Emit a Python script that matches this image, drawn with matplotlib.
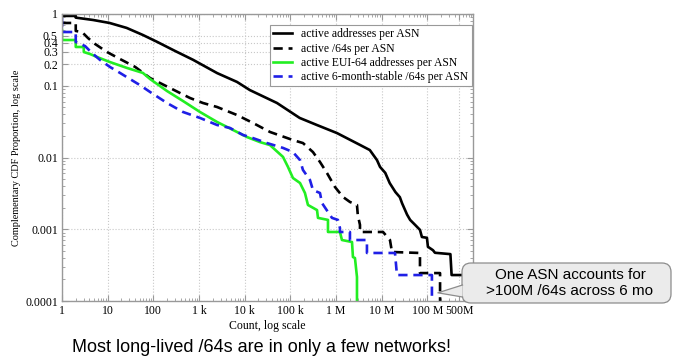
import matplotlib
matplotlib.use("Agg")
import matplotlib.pyplot as plt
from matplotlib.ticker import FixedLocator, FixedFormatter, LogLocator, NullFormatter
from matplotlib.patches import FancyBboxPatch, Polygon
from matplotlib.lines import Line2D

# complementary CDFs: count vs. proportion of ASNs with at least that count
addr_x = [1, 2, 2, 4.8, 11, 26, 59, 120, 300, 740, 2500, 6800, 13000, 51000,
          1.6e5, 3.8e5, 1.05e6, 3.4e6, 5.5e6, 7.9e6, 9.2e6, 1.2e7, 1.5e7, 2.0e7,
          2.5e7, 2.8e7, 3.6e7, 4.2e7, 5.4e7, 6.9e7, 7.6e7, 9.8e7, 1.03e8, 1.33e8,
          1.47e8, 3.2e8, 3.4e8, 6.5e8]
addr_y = [0.94, 0.94, 0.89, 0.825, 0.75, 0.64, 0.51, 0.41, 0.305, 0.23, 0.15,
          0.113, 0.087, 0.0575, 0.0356, 0.0284, 0.0219, 0.0149, 0.0127, 0.0092,
          0.0074, 0.0061, 0.0044, 0.0033, 0.0028, 0.0023, 0.0016, 0.00135,
          0.00115, 0.00098, 0.00078, 0.00076, 0.00057, 0.00051, 0.00047,
          0.00045, 0.00023, 0.00023]

p64_x = [1, 2, 2, 2.74, 3.7, 5.3, 9.7, 18.6, 40, 85, 232, 635, 1220, 2480,
         6790, 15200, 35800, 114000, 189000, 313000, 446000, 634000, 950000,
         1.42e6, 2.02e6, 2.88e6, 3.0e6, 3.35e6, 3.35e6, 1.07e7, 1.52e7, 1.68e7,
         6.9e7, 6.9e7, 1.9e8, 1.9e8]
p64_y = [0.75, 0.75, 0.58, 0.561, 0.463, 0.382, 0.295, 0.236, 0.183, 0.128,
         0.093, 0.0675, 0.0575, 0.0506, 0.0391, 0.0303, 0.0227, 0.0175, 0.0159,
         0.0119, 0.00866, 0.00608, 0.00388, 0.00282, 0.0024, 0.00218, 0.00158,
         0.00115, 0.000916, 0.000916, 0.000708, 0.000482, 0.000467, 0.000245,
         0.000245, 4e-5]

eui_x = [1, 1, 2, 2, 3, 3, 4.1, 5.8, 11.2, 26.5, 59, 85, 199, 446, 1050, 2480,
         5550, 11200, 21600, 35800, 69000, 88900, 114000, 163000, 209000,
         243000, 384000, 403000, 667000, 667000, 1.22e6, 1.35e6, 2.24e6,
         2.35e6, 2.6e6, 2.88e6, 2.88e6]
eui_y = [0.6, 0.434, 0.434, 0.347, 0.347, 0.295, 0.277, 0.252, 0.214, 0.177,
         0.151, 0.124, 0.0845, 0.0613, 0.0431, 0.0313, 0.0242, 0.0193, 0.0164,
         0.0149, 0.0102, 0.00738, 0.00518, 0.00441, 0.0032, 0.00218, 0.00185,
         0.00144, 0.00135, 0.000916, 0.000916, 0.000708, 0.000664, 0.00041,
         0.000397, 0.000216, 1e-5]

stable_x = [1, 1, 2, 2, 3.19, 4.54, 6.8, 11.2, 18.6, 30.8, 51, 85, 199, 446,
            1050, 2480, 4770, 9190, 13000, 30800, 69000, 114000, 163000,
            189000, 269000, 313000, 446000, 493000, 667000, 817000, 1.1e6,
            1.22e6, 1.22e6, 2.02e6, 2.02e6, 4.76e6, 4.76e6, 1.96e7, 2.16e7,
            1.26e8, 1.26e8]
stable_y = [0.88, 0.561, 0.561, 0.407, 0.358, 0.286, 0.229, 0.183, 0.151,
            0.124, 0.102, 0.0818, 0.0575, 0.0431, 0.0356, 0.0284, 0.0258,
            0.0206, 0.0193, 0.0159, 0.0136, 0.0119, 0.0092, 0.0067, 0.00486,
            0.00352, 0.0032, 0.00232, 0.00174, 0.00144, 0.00135, 0.00104,
            0.000916, 0.000916, 0.000708, 0.000708, 0.000467, 0.000467,
            0.00023, 0.00023, 1e-5]

x_ticks = [1, 10, 100, 1e3, 1e4, 1e5, 1e6, 1e7, 1e8, 5e8]
x_labels = ["1", "10", "100", "1 k", "10 k", "100 k", "1 M", "10 M", "100 M", "500M"]
y_ticks = [1, 0.5, 0.4, 0.3, 0.2, 0.1, 0.01, 0.001, 0.0001]
y_labels = ["1", "0.5", "0.4", "0.3", "0.2", "0.1", "0.01", "0.001", "0.0001"]

serif = "Liberation Serif"
sans = "Liberation Sans"
frame = "#999999"

fig = plt.figure(figsize=(6.73, 3.56), dpi=100)
ax = fig.add_axes([62 / 673, 55 / 356, 411 / 673, 287 / 356])

lw = 1.9
ax.plot(addr_x, addr_y, color="black", lw=lw, label="active addresses per ASN")
ax.plot(p64_x, p64_y, color="black", lw=lw, dashes=(3.5, 2.2),
        label="active /64s per ASN")
ax.plot(eui_x, eui_y, color="#22ee22", lw=lw,
        label="active EUI-64 addresses per ASN")
ax.plot(stable_x, stable_y, color="#1f1fe6", lw=lw, dashes=(3.5, 2.2),
        label="active 6-month-stable /64s per ASN")

ax.set_xscale("log")
ax.set_yscale("log")
ax.set_xlim(1, 1e9)
ax.set_ylim(1e-4, 1)

ax.xaxis.set_major_locator(FixedLocator(x_ticks))
ax.xaxis.set_major_formatter(FixedFormatter(x_labels))
ax.xaxis.set_minor_locator(LogLocator(base=10, subs=range(2, 10), numticks=20))
ax.xaxis.set_minor_formatter(NullFormatter())
ax.yaxis.set_major_locator(FixedLocator(y_ticks))
ax.yaxis.set_major_formatter(FixedFormatter(y_labels))
ax.yaxis.set_minor_locator(LogLocator(base=10, subs=range(2, 10), numticks=20))
ax.yaxis.set_minor_formatter(NullFormatter())

ax.tick_params(which="both", direction="in", top=True, right=True, color=frame)
ax.tick_params(which="major", length=4, width=0.8, pad=3, labelsize=8.5)
ax.tick_params(which="minor", length=2.5, width=0.6)
for lab in ax.get_xticklabels() + ax.get_yticklabels():
    lab.set_family(serif)

for sp in ax.spines.values():
    sp.set_color(frame)
    sp.set_linewidth(1.0)

ax.grid(True, which="major", linestyle=":", color="#c8c8c8", lw=0.8)
ax.set_axisbelow(True)

ax.set_xlabel("Count, log scale", family=serif, fontsize=8.5, labelpad=2)
ax.set_ylabel("Complementary CDF Proportion, log scale", family=serif,
              fontsize=7.4, labelpad=3)

leg = ax.legend(loc="upper right", bbox_to_anchor=(472 / 673, 1 - 25 / 356),
                bbox_transform=fig.transFigure, borderaxespad=0,
                prop={"family": serif, "size": 8.4}, fancybox=False,
                framealpha=1, edgecolor=frame, handlelength=1.6,
                handletextpad=0.8, labelspacing=0.18, borderpad=0.3)
leg.get_frame().set_linewidth(0.8)

fig.text(262 / 673, 1 - 347 / 356, "Most long-lived /64s are in only a few networks!",
         family=sans, fontsize=13, ha="center", va="center")

# callout box with a pointer at the largest stable /64 network
inch = fig.dpi_scale_trans
box = FancyBboxPatch((4.62, 0.53), 2.09, 0.40,
                     boxstyle="round,pad=0,rounding_size=0.09",
                     transform=inch, fc="#ebebeb", ec="#8c8c8c", lw=0.9,
                     zorder=10, clip_on=False)
fig.add_artist(box)
tip = inch.inverted().transform(ax.transData.transform((1.7e8, 1.3e-4)))
base_hi = (4.625, 0.71)
base_lo = (4.625, 0.59)
fig.add_artist(Polygon([base_hi, tip, base_lo], closed=True, transform=inch,
                       fc="#ebebeb", ec="none", zorder=11, clip_on=False))
fig.add_artist(Line2D([base_hi[0], tip[0], base_lo[0]],
                      [base_hi[1], tip[1], base_lo[1]], transform=inch,
                      color="#8c8c8c", lw=0.9, zorder=12))
fig.text(5.70, 0.73, "One ASN accounts for\n>100M /64s across 6 mo",
         transform=inch, family=sans, fontsize=11, ha="center", va="center",
         linespacing=1.15, zorder=13)

fig.savefig("out.png", dpi=100)
